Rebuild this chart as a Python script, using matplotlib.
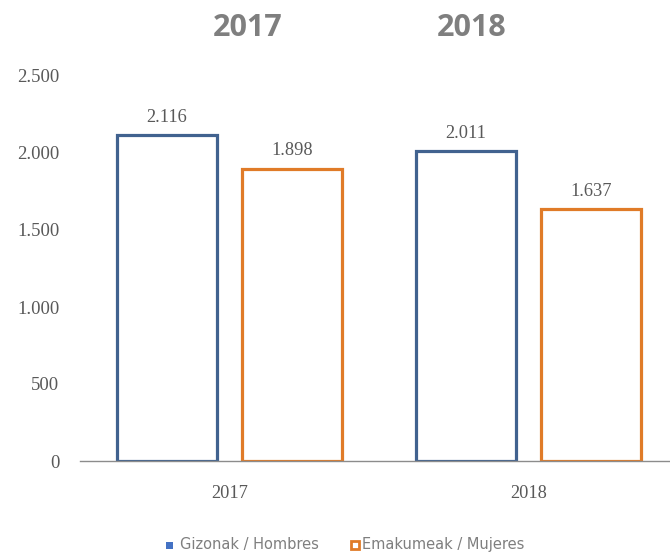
import matplotlib
matplotlib.use("Agg")
import matplotlib.pyplot as plt
import numpy as np

years = ["2017", "2018"]
hombres = [2116, 2011]
mujeres = [1898, 1637]
yticks = [0, 500, 1000, 1500, 2000, 2500]
series_labels = ["Gizonak / Hombres", "Emakumeak / Mujeres"]

BLUE = "#41628f"
ORANGE = "#e07b28"
GREY = "#595959"


def fmt(v):
    return f"{v:,}".replace(",", ".")


W, H = 670, 553
fig = plt.figure(figsize=(W / 100, H / 100), dpi=100)
ax = fig.add_axes([80 / W, (H - 461) / H, (670 - 80) / W, (461 - 76) / H])

x = np.arange(len(years))
bw = 0.334
off = 0.209
for xs, vals, col in [(x - off, hombres, BLUE), (x + off, mujeres, ORANGE)]:
    ax.bar(xs, vals, bw, facecolor="white", edgecolor=col, linewidth=2.3)
    for xi, v in zip(xs, vals):
        ax.text(xi, v + 60, fmt(v), ha="center", va="bottom",
                fontsize=13.2, color=GREY, family="Liberation Serif")

ax.set_xlim(-0.5, (670 - 80) / 299 - 0.5)
ax.set_ylim(0, 2500)
ax.set_yticks(yticks)
ax.set_yticklabels([fmt(v) for v in yticks], family="Liberation Serif",
                   fontsize=13.5, color=GREY)
ax.tick_params(axis="y", length=0, pad=15)
ax.set_xticks(x)
ax.set_xticklabels(years, family="Liberation Serif", fontsize=13.2, color=GREY)
ax.tick_params(axis="x", length=0, pad=17)
for s in ["top", "right", "left"]:
    ax.spines[s].set_visible(False)
ax.spines["bottom"].set_color("#8c8c8c")
ax.spines["bottom"].set_linewidth(1.0)

# group titles at the top
fig.text(248 / W, 1 - 28 / H, "2017", ha="center", va="center",
         fontsize=22, fontweight="bold", color="#7f7f7f", family="Open Sans")
fig.text(472 / W, 1 - 28 / H, "2018", ha="center", va="center",
         fontsize=22, fontweight="bold", color="#7f7f7f", family="Open Sans")

# legend
ly = 1 - 545 / H
fig.patches.append(plt.Rectangle((166 / W, ly - 3.5 / H), 7 / W, 7 / H,
                                 transform=fig.transFigure, facecolor="#4472c4",
                                 edgecolor="none"))
fig.text(180 / W, ly, series_labels[0], ha="left", va="center",
         fontsize=10.5, color="#7f7f7f")
fig.patches.append(plt.Rectangle((351 / W, ly - 4 / H), 8 / W, 8 / H,
                                 transform=fig.transFigure, facecolor="white",
                                 edgecolor=ORANGE, linewidth=2))
fig.text(362 / W, ly, series_labels[1], ha="left", va="center",
         fontsize=10.5, color="#7f7f7f")

fig.savefig("out.png", dpi=100)
